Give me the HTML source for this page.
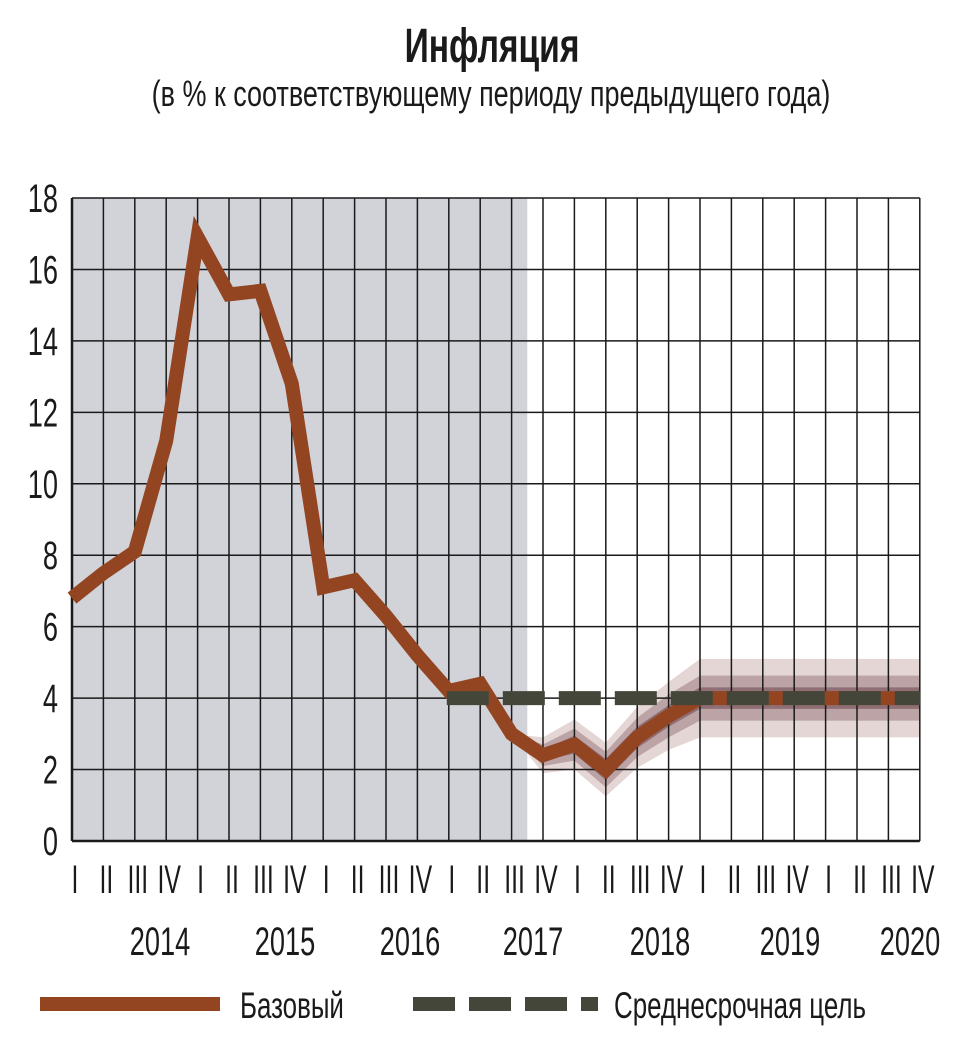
<!DOCTYPE html>
<html><head><meta charset="utf-8">
<style>
body{margin:0;background:#fff;}
svg text{font-family:"Liberation Sans",sans-serif;fill:#1a1a1a;}
</style></head>
<body>
<svg width="962" height="1048" viewBox="0 0 962 1048" id="chart">
<text transform="translate(492,62) scale(0.7,1)" text-anchor="middle" font-size="48" font-weight="bold">Инфляция</text>
<text transform="translate(491,106) scale(0.75,1)" text-anchor="middle" font-size="36">(в % к соответствующему периоду предыдущего года)</text>
<g id="plot"></g>
<line x1="40" y1="1004" x2="220" y2="1004" stroke="#934522" stroke-width="14"/>
<text transform="translate(240,1018) scale(0.7,1)" font-size="37">Базовый</text>
<line x1="413" y1="1004" x2="598" y2="1004" stroke="#45463a" stroke-width="14" stroke-dasharray="42,14"/>
<text transform="translate(614,1018) scale(0.7,1)" font-size="37">Среднесрочная цель</text>
</svg>
<script>
const quarters=["I","II","III","IV"];
const years=["2014","2015","2016","2017","2018","2019","2020"];
const yearLabelX=[160,285,410,533,660,790,910];
const yTicks=[0,2,4,6,8,10,12,14,16,18];
const baseValues=[6.8,7.5,8.1,11.2,16.9,15.3,15.4,12.8,7.1,7.3,6.3,5.2,4.2,4.4,3.0,2.4,2.7,2.0,2.9,3.5,4.0,4.0,4.0,4.0,4.0,4.0,4.0,4.0];
const targetValue=4;
const targetStartIndex=12;
const bandStartIndex=14;
const bandOuter=[0,0.5,0.7,0.75,0.85,0.95,1.1,1.1,1.1,1.1,1.1,1.1,1.1,1.1];
const bandMiddle=[0,0.3,0.45,0.5,0.55,0.6,0.63,0.63,0.63,0.63,0.63,0.63,0.63,0.63];
const bandInner=[0,0.15,0.25,0.3,0.3,0.3,0.3,0.3,0.3,0.3,0.3,0.3,0.3,0.3];
const historyEndIndex=14.5;

const NS="http://www.w3.org/2000/svg";
const x0=72,step=31.4,yBase=841,yTop=198,yMax=18;
const X=i=>x0+i*step;
const Y=v=>yBase-(v/yMax)*(yBase-yTop);
const plot=document.getElementById('plot');
function mk(tag,attrs){const e=document.createElementNS(NS,tag);for(const k in attrs)e.setAttribute(k,attrs[k]);plot.appendChild(e);return e;}
const nQ=years.length*4;
const xEnd=X(nQ-1);

let sh=mk('rect',{x:x0,y:yTop,width:X(historyEndIndex)-x0,height:yBase-yTop,fill:'#d1d3d9'});



function band(w,color,name){
  let top=[],bot=[];
  for(let k=0;k<w.length;k++){const i=bandStartIndex+k;top.push(X(i)+','+Y(baseValues[i]+w[k]));bot.unshift(X(i)+','+Y(baseValues[i]-w[k]));}
  let p=mk('polygon',{points:top.concat(bot).join(' '),fill:color});
  
  
}
band(bandOuter,'#e4d6d4','forecast-band-outer');
band(bandMiddle,'#bba3a6','forecast-band-middle');
band(bandInner,'#8f6f73','forecast-band-inner');

yTicks.forEach(v=>{
  let l=mk('line',{x1:x0,x2:xEnd,y1:Y(v),y2:Y(v),stroke:'#1a1a1a','stroke-width':v===0?2.5:1.5});
  
  
  let t=mk('text',{transform:'translate(58,'+(Y(v)+14)+') scale(0.68,1)','text-anchor':'end','font-size':40});
  t.textContent=v;
  
  
});
for(let i=0;i<nQ;i++){
  let l=mk('line',{x1:X(i),x2:X(i),y1:yTop,y2:yBase,stroke:'#1a1a1a','stroke-width':i===0?2.5:1.5});
  
  
  let t=mk('text',{transform:'translate('+(X(i)+3)+',893) scale(0.62,1)','text-anchor':'middle','font-size':40});
  t.textContent=quarters[i%4];
  
  
}
years.forEach((yr,k)=>{
  let t=mk('text',{transform:'translate('+yearLabelX[k]+',955) scale(0.68,1)','text-anchor':'middle','font-size':40});
  t.textContent=yr;
  
  
});

let pts=baseValues.map((v,i)=>X(i)+','+Y(v)).join(' ');
let bl=mk('polyline',{points:pts,fill:'none',stroke:'#934522','stroke-width':14,'stroke-linejoin':'miter'});



let tl=mk('line',{x1:X(targetStartIndex)-2,x2:xEnd,y1:Y(targetValue),y2:Y(targetValue),stroke:'#45463a','stroke-width':14,'stroke-dasharray':'42,14'});


</script>
</body></html>
